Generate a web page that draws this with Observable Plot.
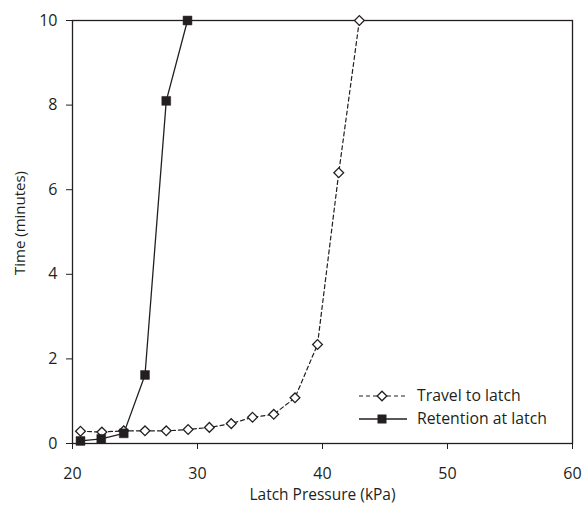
<!DOCTYPE html>
<html>
<head>
<meta charset="utf-8">
<script src="https://cdn.jsdelivr.net/npm/d3@7"></script>
<script src="https://cdn.jsdelivr.net/npm/@observablehq/plot@0.6"></script>
<style>
  html, body { margin: 0; padding: 0; background: #fff; }
  #wrap { position: relative; width: 583px; height: 509px; font-family: "Open Sans", sans-serif; color: #231f20; }
  #legend { position: absolute; left: 359px; top: 384px; font-size: 15.8px; line-height: 23px; }
  #legend .row { display: flex; align-items: center; height: 23px; }
  #legend svg { margin-right: 10px; }
</style>
</head>
<body>
<div id="wrap"></div>
<script>
const travelPressure = [20.64, 22.35, 24.1, 25.8, 27.5, 29.25, 30.95, 32.7, 34.4, 36.1, 37.8, 39.6, 41.3, 42.95];
const travelTime     = [0.29, 0.27, 0.30, 0.30, 0.30, 0.33, 0.38, 0.47, 0.62, 0.69, 1.08, 2.34, 6.4, 10.0];
const retentionPressure = [20.64, 22.3, 24.1, 25.8, 27.5, 29.2];
const retentionTime     = [0.06, 0.11, 0.24, 1.62, 8.1, 10.0];
const xTicks = [20, 30, 40, 50, 60];
const yTicks = [0, 2, 4, 6, 8, 10];
const seriesNames = ["Travel to latch", "Retention at latch"];

const ink = "#231f20";
const travel = travelPressure.map((p, i) => ({p, t: travelTime[i]}));
const retention = retentionPressure.map((p, i) => ({p, t: retentionTime[i]}));

const chart = Plot.plot({
  width: 583,
  height: 509,
  marginLeft: 72,
  marginRight: 11,
  marginTop: 20,
  marginBottom: 66,
  style: {fontFamily: "Open Sans, sans-serif", fontSize: "16px", color: ink, background: "#fff"},
  x: {domain: [20, 60], label: null},
  y: {domain: [0, 10], label: null},
  marks: [
    Plot.frame({stroke: ink, strokeWidth: 1.3}),
    Plot.axisX({ticks: xTicks, tickSize: 6, tickPadding: 18, stroke: ink, fontSize: 16, label: null}),
    Plot.axisY({ticks: yTicks, tickSize: 6, tickPadding: 9, stroke: ink, fontSize: 16, label: null}),
    Plot.text(["Latch Pressure (kPa)"], {frameAnchor: "bottom", dy: 56, fontSize: 15.5, fill: ink}),
    Plot.text(["Time (minutes)"], {frameAnchor: "left", textAnchor: "middle", dx: -52, dy: -9, rotate: -90, fontSize: 15, fill: ink}),
    Plot.line(travel, {x: "p", y: "t", stroke: ink, strokeWidth: 1.2, strokeDasharray: "4,3"}),
    Plot.line(retention, {x: "p", y: "t", stroke: ink, strokeWidth: 1.3}),
    Plot.dot(travel, {x: "p", y: "t", symbol: "diamond2", r: 4.4, fill: "#fff", stroke: ink, strokeWidth: 1.3}),
    Plot.dot(retention, {x: "p", y: "t", symbol: "square", r: 5, fill: ink, stroke: ink, strokeWidth: 0.5})
  ]
});

const wrap = document.getElementById("wrap");
wrap.appendChild(chart);

const legend = document.createElement("div");
legend.id = "legend";
legend.innerHTML = `
  <div class="row"><svg width="48" height="12"><line x1="0" x2="48" y1="6" y2="6" stroke="${ink}" stroke-width="1.2" stroke-dasharray="4,3"/><path d="M23,1.2L27.8,6L23,10.8L18.2,6Z" fill="#fff" stroke="${ink}" stroke-width="1.3"/></svg><span>${seriesNames[0]}</span></div>
  <div class="row"><svg width="48" height="12"><line x1="0" x2="48" y1="6" y2="6" stroke="${ink}" stroke-width="1.3"/><rect x="18.5" y="1.5" width="9" height="9" fill="${ink}"/></svg><span>${seriesNames[1]}</span></div>`;
wrap.appendChild(legend);
</script>
</body>
</html>
